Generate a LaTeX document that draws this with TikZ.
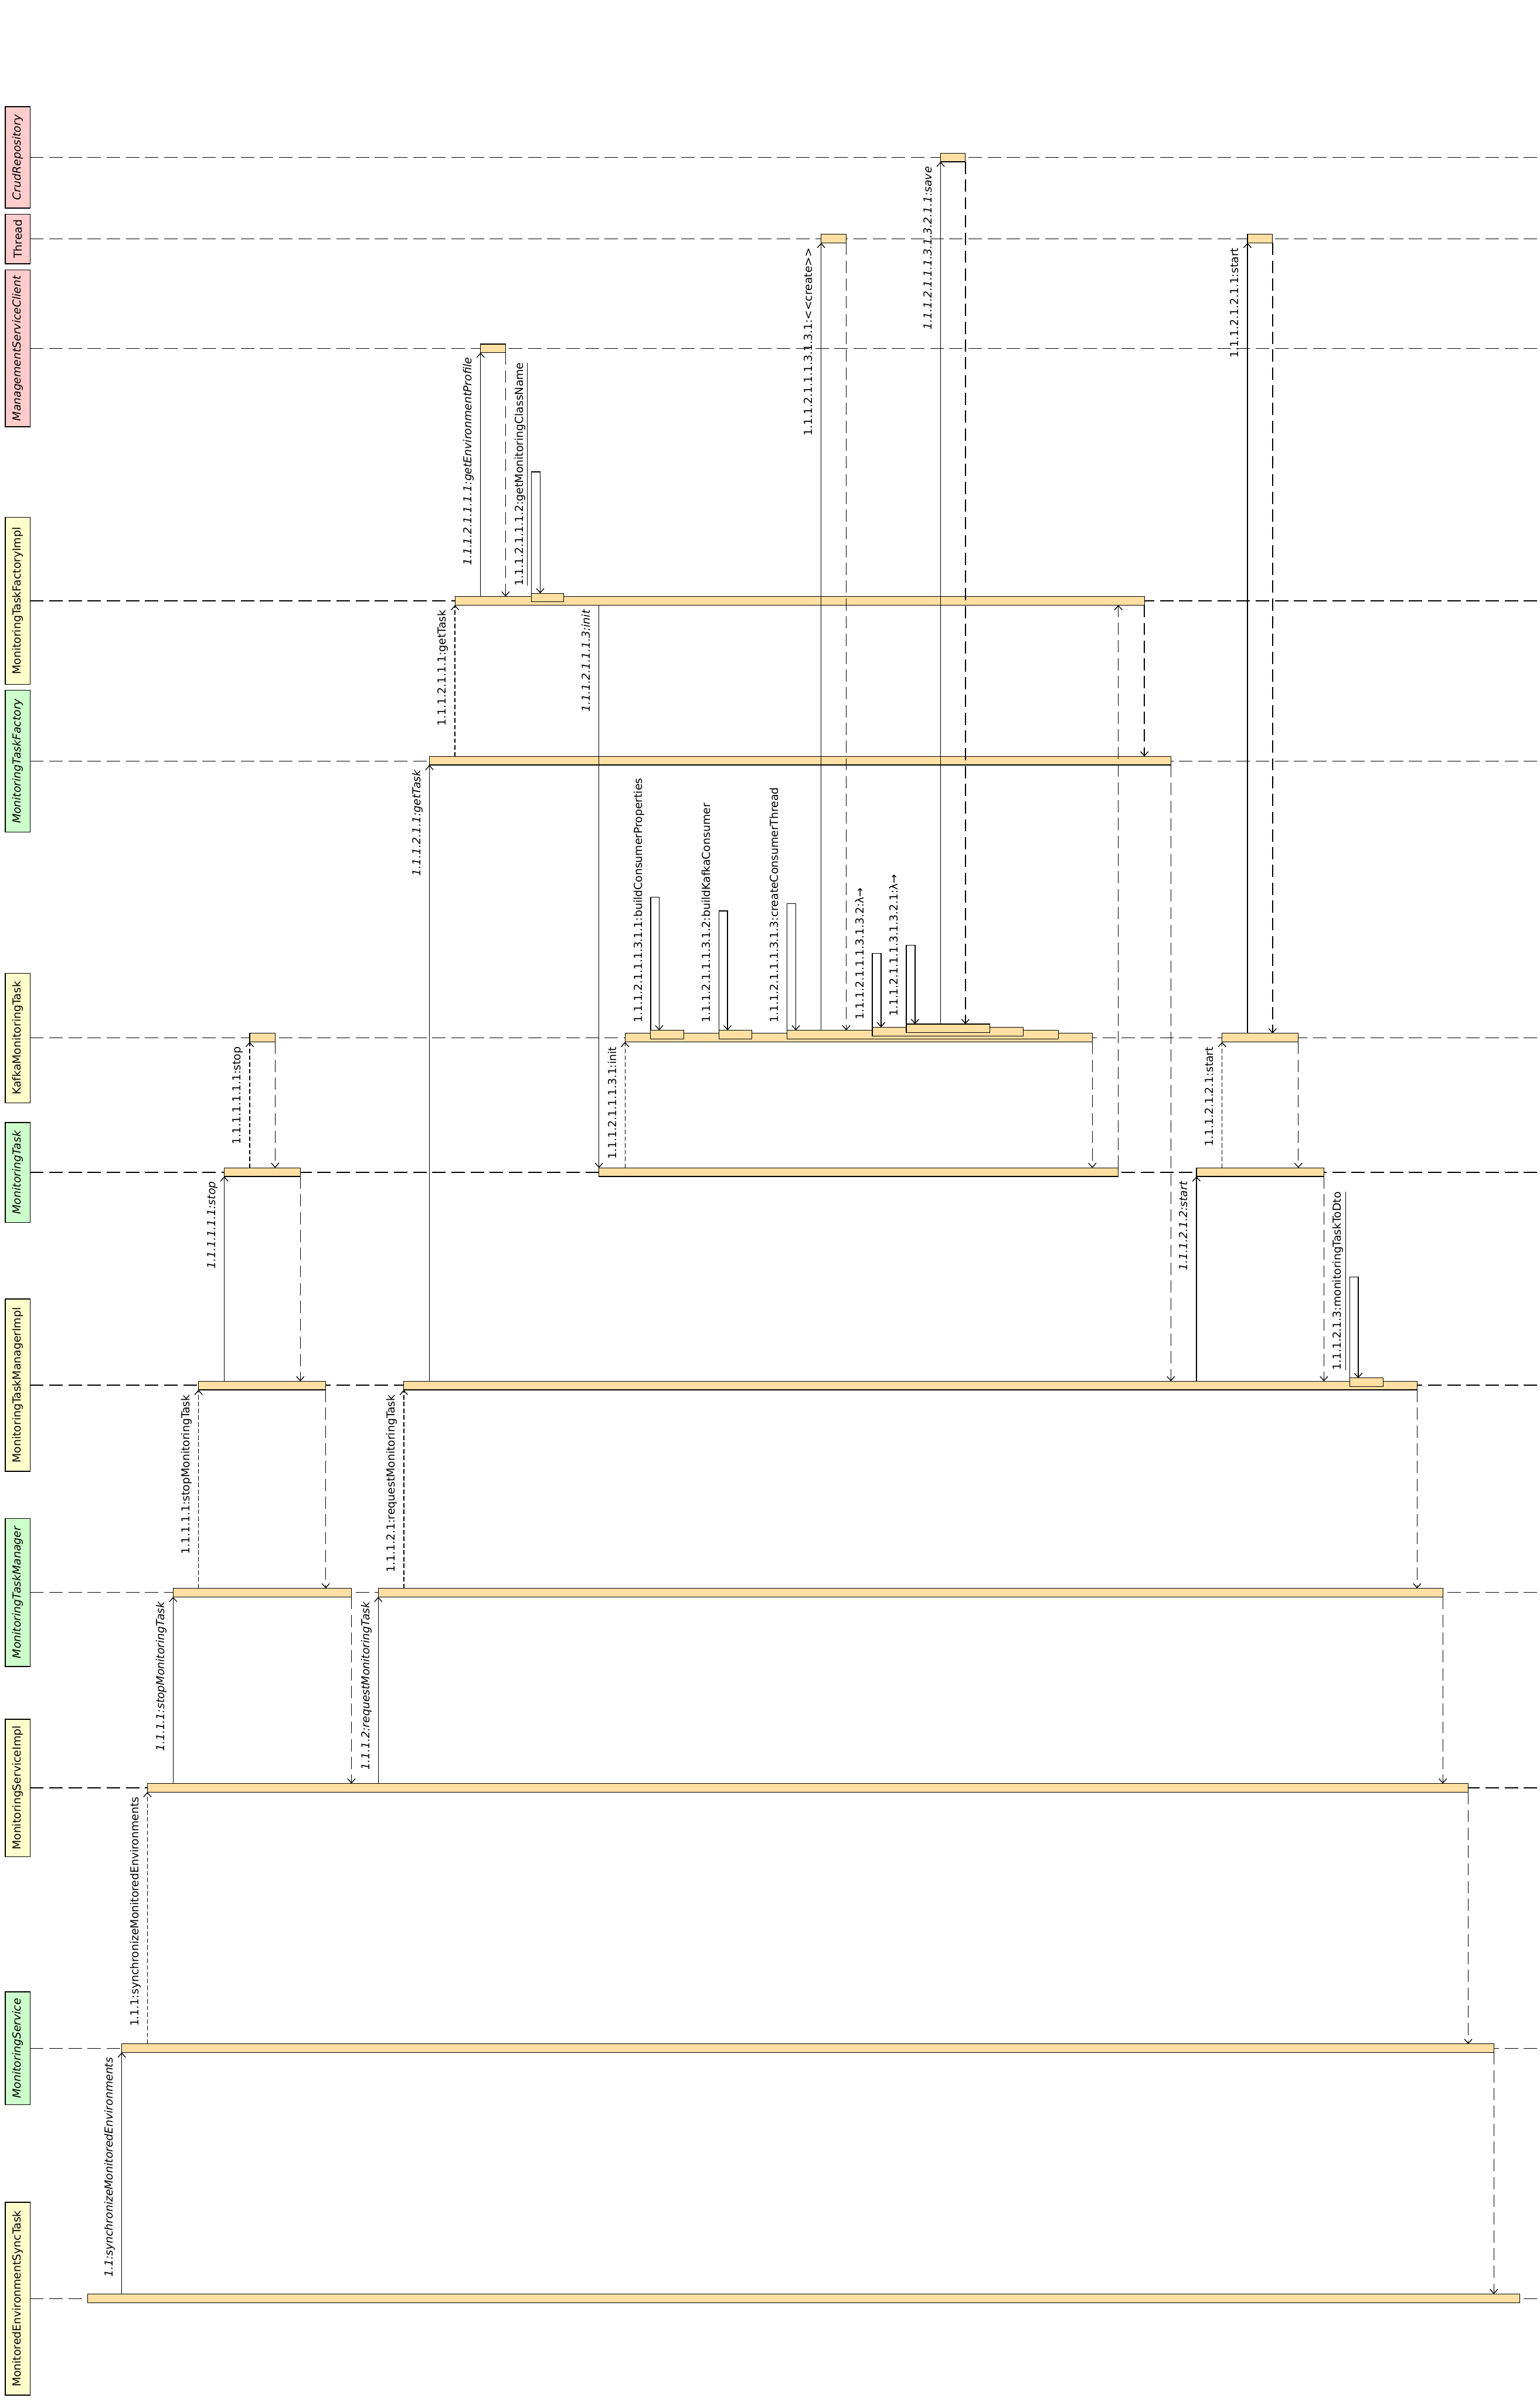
\documentclass[tikz,border=0pt]{standalone}
\usepackage{fontspec}
\setmainfont{DejaVu Sans}
\usetikzlibrary{arrows.meta,calc}
\definecolor{barc}{RGB}{255,223,162}
\definecolor{pinkc}{RGB}{255,204,204}
\definecolor{yelc}{RGB}{255,255,204}
\definecolor{grnc}{RGB}{204,255,204}
\begin{document}
\begin{tikzpicture}[x=1pt,y=-1pt,
  every node/.style={inner sep=0pt, outer sep=0pt},
  hdr/.style={draw=black, line width=0.6pt, rotate=90, minimum height=16.2pt, font=\fontsize{7.2pt}{8pt}\selectfont},
  life/.style={line width=0.45pt, dash pattern=on 8.7pt off 3.8pt},
  actbar/.style={draw=black, line width=0.45pt, fill=barc, minimum height=5.6pt, anchor=west},
  call/.style={line width=0.5pt, -{Straight Barb[length=2.8pt,width=5pt]}},
  real/.style={call, dash pattern=on 3pt off 1.4pt},
  ret/.style={call, dash pattern=on 8pt off 3.6pt},
  lbl/.style={rotate=90, font=\fontsize{7.2pt}{8pt}\selectfont},
  topl/.style={lbl, anchor=base east},
  selfl/.style={lbl, anchor=base west},
]
\fill[white] (0,0) rectangle (1005,1567.4);
\useasboundingbox (0,0) rectangle (1005,1567.4);
\coordinate (rend) at (1005,0);

% headers
\node[hdr, fill=pinkc, minimum width=66.1pt] (hCR) at (11.6,102.75) {\itshape CrudRepository};
\node[hdr, fill=pinkc, minimum width=32.5pt] (hTH) at (11.6,156.05) {Thread};
\node[hdr, fill=pinkc, minimum width=102.2pt] (hMSC) at (11.6,227.4) {\itshape ManagementServiceClient};
\node[hdr, fill=yelc, minimum width=109.1pt] (hFI) at (11.6,392.25) {MonitoringTaskFactoryImpl};
\node[hdr, fill=grnc, minimum width=92.6pt] (hF) at (11.6,496.9) {\itshape MonitoringTaskFactory};
\node[hdr, fill=yelc, minimum width=84.5pt] (hK) at (11.6,677.65) {KafkaMonitoringTask};
\node[hdr, fill=grnc, minimum width=65.3pt] (hMT) at (11.6,765.35) {\itshape MonitoringTask};
\node[hdr, fill=yelc, minimum width=112.5pt] (hMI) at (11.6,904.25) {MonitoringTaskManagerImpl};
\node[hdr, fill=grnc, minimum width=96.5pt] (hM) at (11.6,1039.55) {\itshape MonitoringTaskManager};
\node[hdr, fill=yelc, minimum width=89.7pt] (hSI) at (11.6,1167.15) {MonitoringServiceImpl};
\node[hdr, fill=grnc, minimum width=73.7pt] (hS) at (11.6,1337.15) {\itshape MonitoringService};
\node[hdr, fill=yelc, minimum width=125.9pt] (hST) at (11.6,1500.65) {MonitoredEnvironmentSyncTask};

% lifelines
\foreach \h in {hCR,hTH,hMSC,hFI,hF,hK,hMT,hMI,hM,hSI,hS,hST}
  \draw[life] (\h.south) -- (\h.south -| rend);

% activation bars
\node[actbar, minimum width=934.9pt] (bST) at (57.1,1500.4) {};
\node[actbar, minimum width=895.6pt] (bS) at (79.5,1337.1) {};
\node[actbar, minimum width=862.2pt] (bSI) at (96.2,1167.1) {};
\node[actbar, minimum width=116.4pt] (bM1) at (113,1039.7) {};
\node[actbar, minimum width=694.9pt] (bM2) at (246.9,1039.7) {};
\node[actbar, minimum width=83pt] (bMI1) at (129.6,904.5) {};
\node[actbar, minimum width=661.4pt] (bMI2) at (263.6,904.5) {};
\node[actbar, minimum width=49.6pt] (bMT1) at (146.4,765.2) {};
\node[actbar, minimum width=339pt] (bMT2) at (391,765.2) {};
\node[actbar, minimum width=83.2pt] (bMT3) at (781,765.2) {};
\node[actbar, minimum width=16.6pt] (bK1) at (163,677.4) {};
\node[actbar, minimum width=305pt] (bK2) at (408,677.4) {};
\node[actbar, minimum width=49.8pt] (bK3) at (797.7,677.4) {};
\node[actbar, minimum width=484pt] (bF) at (280.3,496.6) {};
\node[actbar, minimum width=450pt] (bFI) at (297,392.2) {};
\node[actbar, minimum width=16.3pt] (bMSC) at (313.7,227.4) {};
\node[actbar, minimum width=16.4pt] (bTH1) at (536,155.8) {};
\node[actbar, minimum width=16.4pt] (bTH2) at (814.3,155.8) {};
\node[actbar, minimum width=16.2pt] (bCR) at (614,102.8) {};
% nested bars
\node[actbar, minimum width=21pt] (nFI) at (347,390.1) {};
\node[actbar, minimum width=21.6pt] (nBCP) at (424.7,675.4) {};
\node[actbar, minimum width=21.6pt] (nBKC) at (469.3,675.4) {};
\node[actbar, minimum width=177.3pt] (nCCT) at (513.7,675.4) {};
\node[actbar, minimum width=98.6pt] (nL1) at (569.4,673.4) {};
\node[actbar, minimum width=54.4pt] (nL2) at (591.6,671.3) {};
\node[actbar, minimum width=22pt] (nMI) at (881,902.4) {};

% loop tops
\coordinate (tFI) at (352.6,308);
\coordinate (tBCP) at (430.3,585.7);
\coordinate (tBKC) at (474.9,594.6);
\coordinate (tCCT) at (519.5,589.9);
\coordinate (tL1) at (575.1,622.5);
\coordinate (tL2) at (597.3,617);
\coordinate (tMI) at (886.6,833.5);

% messages: stop branch
\draw[call] (bST.north -| bS.west) -- (bS.south west);
\node[topl] (l1) at ($(bS.south west)+(-5.8,3.2)$) {\itshape 1.1:synchronizeMonitoredEnvironments};
\draw[real] (bS.north -| bSI.west) -- (bSI.south west);
\node[topl] (l2) at ($(bSI.south west)+(-5.8,3.2)$) {1.1.1:synchronizeMonitoredEnvironments};
\draw[call] (bSI.north -| bM1.west) -- (bM1.south west);
\node[topl] (l3) at ($(bM1.south west)+(-5.8,3.2)$) {\itshape 1.1.1.1:stopMonitoringTask};
\draw[real] (bM1.north -| bMI1.west) -- (bMI1.south west);
\node[topl] (l4) at ($(bMI1.south west)+(-5.8,3.2)$) {1.1.1.1.1:stopMonitoringTask};
\draw[call] (bMI1.north -| bMT1.west) -- (bMT1.south west);
\node[topl] (l5) at ($(bMT1.south west)+(-5.8,3.2)$) {\itshape 1.1.1.1.1.1:stop};
\draw[real] (bMT1.north -| bK1.west) -- (bK1.south west);
\node[topl] (l6) at ($(bK1.south west)+(-5.8,3.2)$) {1.1.1.1.1.1.1:stop};
\draw[ret] (bK1.south east) -- (bMT1.north -| bK1.east);
\draw[ret] (bMT1.south east) -- (bMI1.north -| bMT1.east);
\draw[ret] (bMI1.south east) -- (bM1.north -| bMI1.east);
\draw[ret] (bM1.south east) -- (bSI.north -| bM1.east);

% request branch
\draw[call] (bSI.north -| bM2.west) -- (bM2.south west);
\node[topl] (l11) at ($(bM2.south west)+(-5.8,3.2)$) {\itshape 1.1.1.2:requestMonitoringTask};
\draw[real] (bM2.north -| bMI2.west) -- (bMI2.south west);
\node[topl] (l12) at ($(bMI2.south west)+(-5.8,3.2)$) {1.1.1.2.1:requestMonitoringTask};
\draw[call] (bMI2.north -| bF.west) -- (bF.south west);
\node[topl] (l13) at ($(bF.south west)+(-5.8,3.2)$) {\itshape 1.1.1.2.1.1:getTask};
\draw[real] (bF.north -| bFI.west) -- (bFI.south west);
\node[topl] (l14) at ($(bFI.south west)+(-5.8,3.2)$) {1.1.1.2.1.1.1:getTask};
\draw[call] (bFI.north -| bMSC.west) -- (bMSC.south west);
\node[topl] (l15) at ($(bMSC.south west)+(-5.8,3.2)$) {\itshape 1.1.1.2.1.1.1.1:getEnvironmentProfile};
\draw[ret] (bMSC.south east) -- (bFI.north -| bMSC.east);
\draw[call] (nFI.north west) |- (tFI) -- (tFI |- nFI.north);
\node[selfl] (l17) at ($(nFI.north west)+(-5.6,-5)$) {\underline{1.1.1.2.1.1.1.2:getMonitoringClassName}};
\draw[call] (bFI.south -| bMT2.west) -- (bMT2.north west);
\node[topl] (l18) at ($(bFI.south -| bMT2.west)+(-5.8,3.2)$) {\itshape 1.1.1.2.1.1.1.3:init};
\draw[real] (bMT2.north -| bK2.west) -- (bK2.south west);
\node[topl] (l19) at ($(bK2.south west)+(-5.8,3.2)$) {1.1.1.2.1.1.1.3.1:init};
\draw[call] (nBCP.north west) |- (tBCP) -- (tBCP |- nBCP.north);
\node[selfl] (l20) at ($(nBCP.north west)+(-5.6,-5)$) {1.1.1.2.1.1.1.3.1.1:buildConsumerProperties};
\draw[call] (nBKC.north west) |- (tBKC) -- (tBKC |- nBKC.north);
\node[selfl] (l21) at ($(nBKC.north west)+(-5.6,-5)$) {1.1.1.2.1.1.1.3.1.2:buildKafkaConsumer};
\draw[call] (nCCT.north west) |- (tCCT) -- (tCCT |- nCCT.north);
\node[selfl] (l22) at ($(nCCT.north west)+(-5.6,-5)$) {1.1.1.2.1.1.1.3.1.3:createConsumerThread};
\draw[call] (nCCT.north -| bTH1.west) -- (bTH1.south west);
\node[topl] (l23) at ($(bTH1.south west)+(-5.8,3.2)$) {1.1.1.2.1.1.1.3.1.3.1:{<}{<}create{>}{>}};
\draw[ret] (bTH1.south east) -- (nCCT.north -| bTH1.east);
\draw[call] (nL1.north west) |- (tL1) -- (tL1 |- nL1.north);
\node[selfl] (l25) at ($(nL1.north west)+(-5.6,-5)$) {1.1.1.2.1.1.1.3.1.3.2:λ→};
\draw[call] (nL2.north west) |- (tL2) -- (tL2 |- nL2.north);
\node[selfl] (l26) at ($(nL2.north west)+(-5.6,-5)$) {1.1.1.2.1.1.1.3.1.3.2.1:λ→};
\draw[call] (nL2.north -| bCR.west) -- (bCR.south west);
\node[topl] (l27) at ($(bCR.south west)+(-5.8,3.2)$) {\itshape 1.1.1.2.1.1.1.3.1.3.2.1.1:save};
\draw[ret] (bCR.south east) -- (nL2.north -| bCR.east);
\draw[ret] (bK2.south east) -- (bMT2.north -| bK2.east);
\draw[ret] (bMT2.north east) -- (bFI.south -| bMT2.east);
\draw[ret] (bFI.south east) -- (bF.north -| bFI.east);
\draw[ret] (bF.south east) -- (bMI2.north -| bF.east);

% start branch
\draw[call] (bMI2.north -| bMT3.west) -- (bMT3.south west);
\node[topl] (l33) at ($(bMT3.south west)+(-5.8,3.2)$) {\itshape 1.1.1.2.1.2:start};
\draw[real] (bMT3.north -| bK3.west) -- (bK3.south west);
\node[topl] (l34) at ($(bK3.south west)+(-5.8,3.2)$) {1.1.1.2.1.2.1:start};
\draw[call] (bK3.north -| bTH2.west) -- (bTH2.south west);
\node[topl] (l35) at ($(bTH2.south west)+(-5.8,3.2)$) {1.1.1.2.1.2.1.1:start};
\draw[ret] (bTH2.south east) -- (bK3.north -| bTH2.east);
\draw[ret] (bK3.south east) -- (bMT3.north -| bK3.east);
\draw[ret] (bMT3.south east) -- (bMI2.north -| bMT3.east);
\draw[call] (nMI.north west) |- (tMI) -- (tMI |- nMI.north);
\node[selfl] (l39) at ($(nMI.north west)+(-5.6,-5)$) {\underline{1.1.1.2.1.3:monitoringTaskToDto}};
\draw[ret] (bMI2.south east) -- (bM2.north -| bMI2.east);
\draw[ret] (bM2.south east) -- (bSI.north -| bM2.east);
\draw[ret] (bSI.south east) -- (bS.north -| bSI.east);
\draw[ret] (bS.south east) -- (bST.north -| bS.east);
\end{tikzpicture}
\end{document}
